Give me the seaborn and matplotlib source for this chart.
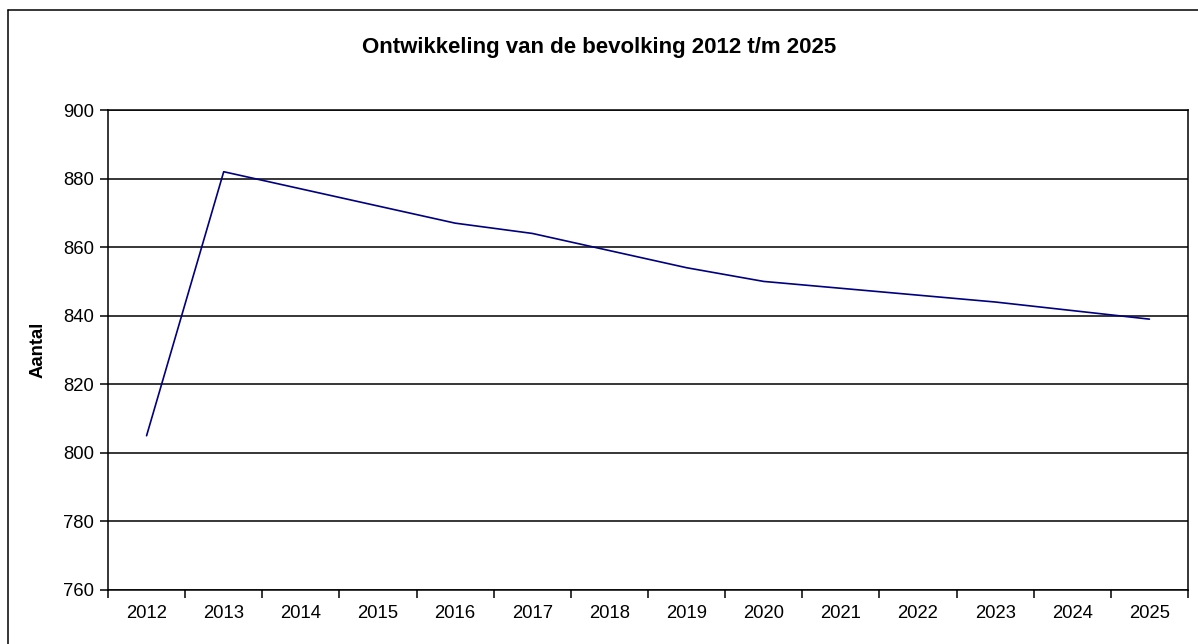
import matplotlib
matplotlib.use("Agg")
import matplotlib.pyplot as plt
import seaborn as sns
import pandas as pd
from matplotlib.lines import Line2D
from matplotlib.ticker import FixedLocator, NullFormatter

years = [2012, 2013, 2014, 2015, 2016, 2017, 2018, 2019, 2020, 2021, 2022, 2023, 2024, 2025]
bevolking = [805, 882, 877, 872, 867, 864, 859, 854, 850, 848, 846, 844, 841.5, 839]
yticks = [760, 780, 800, 820, 840, 860, 880, 900]

sns.set_theme(style="white")
plt.rcParams['font.family'] = ['Liberation Sans', 'DejaVu Sans']

fig = plt.figure(figsize=(11.98, 6.44), dpi=100)
ax = fig.add_axes([108/1198, 1-590/644, (1188-108)/1198, (590-110)/644])

df = pd.DataFrame({"Jaar": years, "Aantal": bevolking})
sns.lineplot(data=df, x="Jaar", y="Aantal", ax=ax, color="#000080", linewidth=1.2)

ax.set_xlim(2011.5, 2025.5)
ax.set_ylim(760, 900)
ax.set_yticks(yticks)
ax.set_yticklabels([str(v) for v in yticks])
ax.yaxis.grid(True, color="black", linewidth=1.1)
ax.set_axisbelow(True)

# category boundaries as major ticks, labels at category centres (minor)
bounds = [y - 0.5 for y in years] + [years[-1] + 0.5]
ax.xaxis.set_major_locator(FixedLocator(bounds))
ax.xaxis.set_major_formatter(NullFormatter())
ax.xaxis.set_minor_locator(FixedLocator(years))
ax.set_xticklabels([str(y) for y in years], minor=True)
ax.tick_params(axis="x", which="major", direction="out", length=6, width=1.1, color="black", bottom=True)
ax.tick_params(axis="x", which="minor", length=0, pad=11, labelsize=13.3, labelcolor="black")
ax.tick_params(axis="y", direction="out", length=6, width=1.1, color="black", left=True, pad=4, labelsize=13.3, labelcolor="black")

for side in ["left", "right", "bottom", "top"]:
    ax.spines[side].set_visible(True)
    ax.spines[side].set_color("black")
    ax.spines[side].set_linewidth(1.1)

ax.set_xlabel("")
ax.set_ylabel("Aantal", fontsize=13.3, fontweight="bold", color="black", labelpad=12)
fig.text(0.5, 1-48/644, "Ontwikkeling van de bevolking 2012 t/m 2025",
         ha="center", va="center", fontsize=16, fontweight="bold", color="black")

# outer chart border (top and left visible)
x0 = 8/1198
yt = 1-10/644
fig.add_artist(Line2D([x0, x0], [0, yt], transform=fig.transFigure, color="black", linewidth=1.1))
fig.add_artist(Line2D([x0, 1], [yt, yt], transform=fig.transFigure, color="black", linewidth=1.1))

fig.savefig("out.png", dpi=100)
